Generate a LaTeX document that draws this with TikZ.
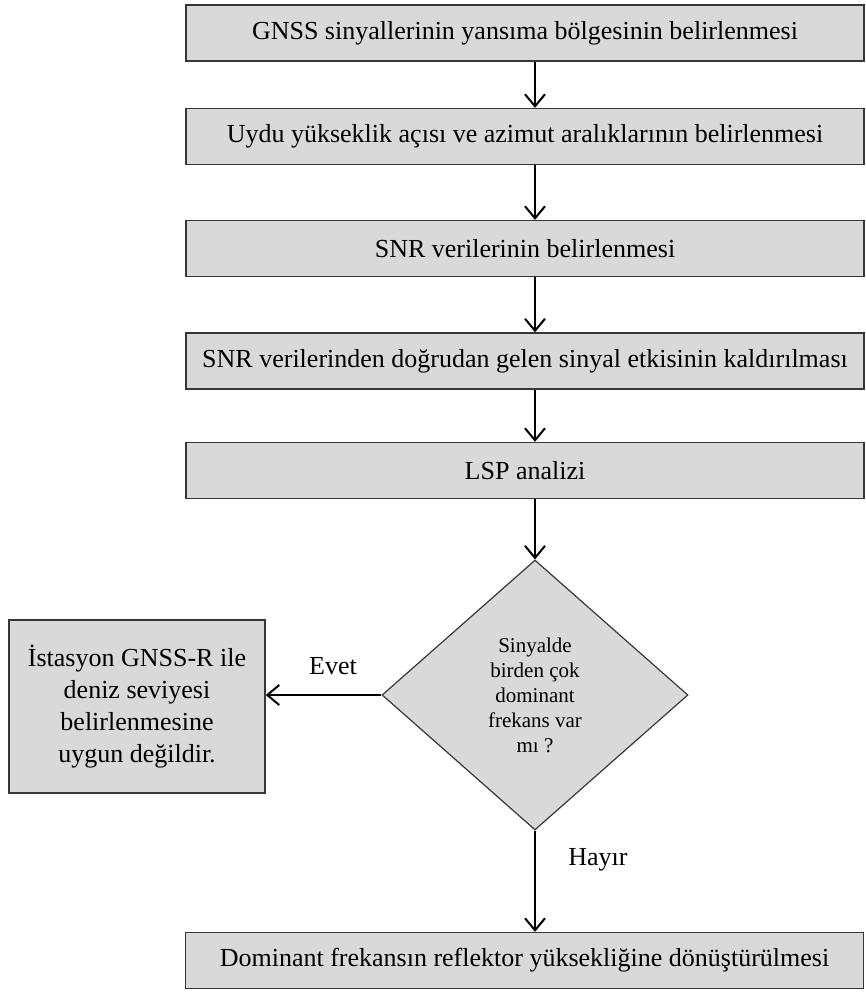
\documentclass[tikz,border=0pt]{standalone}
\usepackage{fontspec}
\setmainfont{Liberation Serif}
\usetikzlibrary{shapes.geometric, positioning, arrows.meta}
\definecolor{BoxGray}{RGB}{217,217,217}
\definecolor{EdgeGray}{RGB}{55,55,55}

\begin{document}
\begin{tikzpicture}[x=0.5pt, y=-0.5pt,
          bx/.style={rectangle, fill=BoxGray, draw=EdgeGray, line width=0.7pt,
                     minimum width=339pt, minimum height=28pt, inner sep=2pt,
                     align=center, font=\fontsize{13}{16}\selectfont},
          dec/.style={diamond, fill=BoxGray, draw=EdgeGray, line width=0.6pt,
                      minimum width=153pt, minimum height=135pt, inner sep=0pt,
                      align=center, font=\fontsize{10.5}{12.5}\selectfont},
          lbl/.style={font=\fontsize{13}{16}\selectfont},
          arr/.style={-{Straight Barb[length=6pt, width=10pt]}, line width=1pt}
        ]
        \useasboundingbox (0,0) rectangle (866,992);

        \node[bx] (s1) at (525, 33)    {GNSS sinyallerinin yansıma bölgesinin belirlenmesi};
        \node[bx] (s2) at (525, 136.5) {Uydu yükseklik açısı ve azimut aralıklarının belirlenmesi};
        \node[bx] (s3) at (525, 248.5) {SNR verilerinin belirlenmesi};
        \node[bx] (s4) at (525, 361)   {SNR verilerinden doğrudan gelen sinyal etkisinin kaldırılması};
        \node[bx] (s5) at (525, 470.5) {LSP analizi};

        \node[dec] (q) at (535, 695)
              {Sinyalde\\birden çok\\dominant\\frekans var\\mı ?};

        \node[bx, minimum width=128pt, minimum height=86.5pt]
              (no)  at (137, 706.5)
              {İstasyon GNSS-R ile\\deniz seviyesi\\belirlenmesine\\uygun değildir.};

        \node[bx] (res) at (524.5, 960.5)
              {Dominant frekansın reflektor yüksekliğine dönüştürülmesi};

        \foreach \a/\b in {s1/s2, s2/s3, s3/s4, s4/s5}{
          \draw[arr] (\a.south -| q.north) -- (\b.north -| q.north);
        }
        \draw[arr] (s5.south -| q.north) -- (q.north);
        \draw[arr] (q.west) -- (q.west -| no.east);
        \draw[arr] (q.south) -- (res.north -| q.south);

        \node[lbl] (yes) at (333, 666) {Evet};
        \node[lbl] (nay) at (598, 860) {Hayır};
      \end{tikzpicture}
\end{document}
